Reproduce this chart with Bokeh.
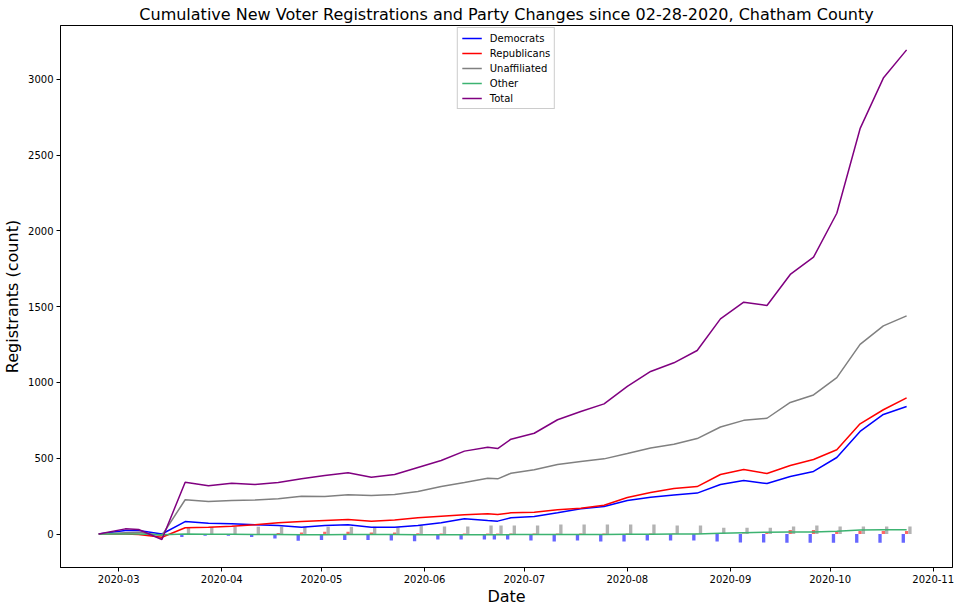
import pandas as pd
from bokeh.plotting import figure
from bokeh.models import (Range1d, FixedTicker, DatetimeTickFormatter, Legend, LegendItem)
from bokeh.embed import file_html
from bokeh.resources import INLINE

# ---------------- data ----------------
dates = ["2020-02-24", "2020-03-03", "2020-03-07", "2020-03-14", "2020-03-21", "2020-03-28",
         "2020-04-04", "2020-04-11", "2020-04-18", "2020-04-25", "2020-05-02", "2020-05-09",
         "2020-05-16", "2020-05-23", "2020-05-30", "2020-06-06", "2020-06-13", "2020-06-20",
         "2020-06-23", "2020-06-27", "2020-07-04", "2020-07-11", "2020-07-18", "2020-07-25",
         "2020-08-01", "2020-08-08", "2020-08-15", "2020-08-22", "2020-08-29", "2020-09-05",
         "2020-09-12", "2020-09-19", "2020-09-26", "2020-10-03", "2020-10-10", "2020-10-17",
         "2020-10-24"]

democrats = [0, 23, 23, 0, 82, 71, 67, 61, 56, 45, 56, 61, 45, 45, 56, 74, 100, 89, 85, 107,
             115, 140, 166, 181, 221, 243, 258, 270, 327, 353, 333, 380, 413, 505, 677, 789, 842]
republicans = [0, 0, -3, -21, 41, 45, 51, 61, 74, 82, 89, 96, 85, 93, 107, 117, 127, 133, 129,
               140, 144, 160, 170, 190, 241, 274, 300, 313, 393, 426, 399, 452, 492, 556, 727,
               820, 899]
unaffiliated = [0, 8, 12, -10, 226, 215, 221, 224, 232, 250, 248, 259, 254, 261, 281, 314, 340,
                368, 364, 401, 424, 459, 478, 496, 531, 568, 592, 630, 706, 750, 764, 868, 918,
                1032, 1252, 1374, 1440]
other = [0, 0, 0, -5, 0, -2, -2, -3, -4, -5, -5, -4, -4, -4, -5, -5, -5, -5, -5, -4, -4, -3, -3,
         -3, -2, -1, 0, 0, 5, 9, 12, 13, 13, 18, 27, 28, 28]
total = [0, 34, 30, -36, 342, 318, 335, 327, 340, 364, 386, 404, 375, 393, 439, 485, 547, 573,
         564, 626, 665, 754, 808, 859, 974, 1073, 1130, 1211, 1420, 1530, 1508, 1713, 1827, 2117,
         2675, 3009, 3195]

# party-change bars (from 2020-03-21 on)
bar_dates = dates[4:]
dem_change = [-20, -12, -12, -20, -30, -45, -40, -40, -40, -43, -47, -36, -36, -36, -36, -36,
              -43, -50, -43, -50, -50, -43, -43, -43, -50, -56, -56, -57, -57, -57, -57, -57, -57]
rep_change = [0, 0, 0, 0, 6, 10, 15, 15, 10, 10, 5, 3, 3, 3, 3, 3, 3, 3, 3, 3, 3, 3, 3, 3,
              3, 3, 8, 26, 26, 15, 20, 20, 20]
unaf_change = [44, 46, 48, 48, 48, 48, 48, 48, 48, 44, 56, 50, 50, 56, 56, 56, 56, 63, 63, 63,
               63, 63, 56, 56, 41, 41, 41, 50, 56, 50, 50, 50, 50]

x_ticks = ["2020-03-01", "2020-04-01", "2020-05-01", "2020-06-01", "2020-07-01", "2020-08-01",
           "2020-09-01", "2020-10-01", "2020-11-01"]
y_ticks = [0, 500, 1000, 1500, 2000, 2500, 3000]

# ---------------- figure ----------------
DAY = pd.Timedelta(days=1)
xd = pd.to_datetime(dates)
bd = pd.to_datetime(bar_dates)

x0 = pd.Timestamp("2020-03-01") - pd.Timedelta(days=17.5)
x1 = pd.Timestamp("2020-03-01") + pd.Timedelta(days=250.8)

p = figure(width=960, height=611, x_axis_type="datetime", output_backend="svg",
           toolbar_location=None, x_range=Range1d(x0, x1), y_range=Range1d(-221, 3356),
           min_border_left=58, min_border_right=8, min_border_top=25, min_border_bottom=44)

p.title.text = "Cumulative New Voter Registrations and Party Changes since 02-28-2020, Chatham County"
p.title.align = "center"
p.title.text_font = "DejaVu Sans"
p.title.text_font_size = "16px"
p.title.text_font_style = "normal"
p.title.text_color = "black"
p.title.standoff = 3

p.xgrid.visible = False
p.ygrid.visible = False
p.outline_line_color = "black"
p.outline_line_alpha = 1
p.outline_line_width = 1
p.background_fill_color = "white"
p.border_fill_color = "white"

ms = lambda s: pd.Timestamp(s).value // 10**6
p.xaxis.ticker = FixedTicker(ticks=[ms(t) for t in x_ticks])
p.xaxis.formatter = DatetimeTickFormatter(years="%Y-%m", months="%Y-%m", days="%Y-%m",
                                          hours="%Y-%m", minutes="%Y-%m", seconds="%Y-%m",
                                          milliseconds="%Y-%m", minsec="%Y-%m", hourmin="%Y-%m")
p.yaxis.ticker = FixedTicker(ticks=y_ticks)

for ax in (p.xaxis[0], p.yaxis[0]):
    ax.major_label_text_font = "DejaVu Sans"
    ax.major_label_text_font_size = "10px"
    ax.major_label_text_color = "black"
    ax.axis_label_text_font = "DejaVu Sans"
    ax.axis_label_text_font_size = "16px"
    ax.axis_label_text_font_style = "normal"
    ax.axis_label_text_color = "black"
    ax.major_tick_out = 4
    ax.major_tick_in = 0
    ax.minor_tick_line_color = None
    ax.axis_line_color = "black"
    ax.major_tick_line_color = "black"
    ax.major_label_standoff = 3

p.xaxis.axis_label = "Date"
p.yaxis.axis_label = "Registrants (count)"
p.xaxis.axis_label_standoff = 1
p.yaxis.axis_label_standoff = 3

# bars
p.vbar(x=bd - DAY, top=dem_change, bottom=0, width=DAY, color="#6666ff", line_color=None)
p.vbar(x=bd, top=rep_change, bottom=0, width=DAY, color="#ff6666", line_color=None)
p.vbar(x=bd + DAY, top=unaf_change, bottom=0, width=DAY, color="#b3b3b3", line_color=None)

# lines
series = [("Democrats", democrats, "blue"),
          ("Republicans", republicans, "red"),
          ("Unaffiliated", unaffiliated, "gray"),
          ("Other", other, "mediumseagreen"),
          ("Total", total, "purple")]
items = []
for name, vals, col in series:
    r = p.line(x=xd, y=vals, line_color=col, line_width=1.5)
    items.append(LegendItem(label=name, renderers=[r]))

legend = Legend(items=items, location="top_center", margin=2, padding=4, spacing=3,
                glyph_width=20, glyph_height=12, label_height=12, label_standoff=8,
                label_text_font="DejaVu Sans", label_text_font_size="10px",
                label_text_color="black", border_line_color="#cccccc", border_line_alpha=1,
                background_fill_alpha=0.8)
p.add_layout(legend)

open("out.html", "w").write(file_html(p, INLINE))
